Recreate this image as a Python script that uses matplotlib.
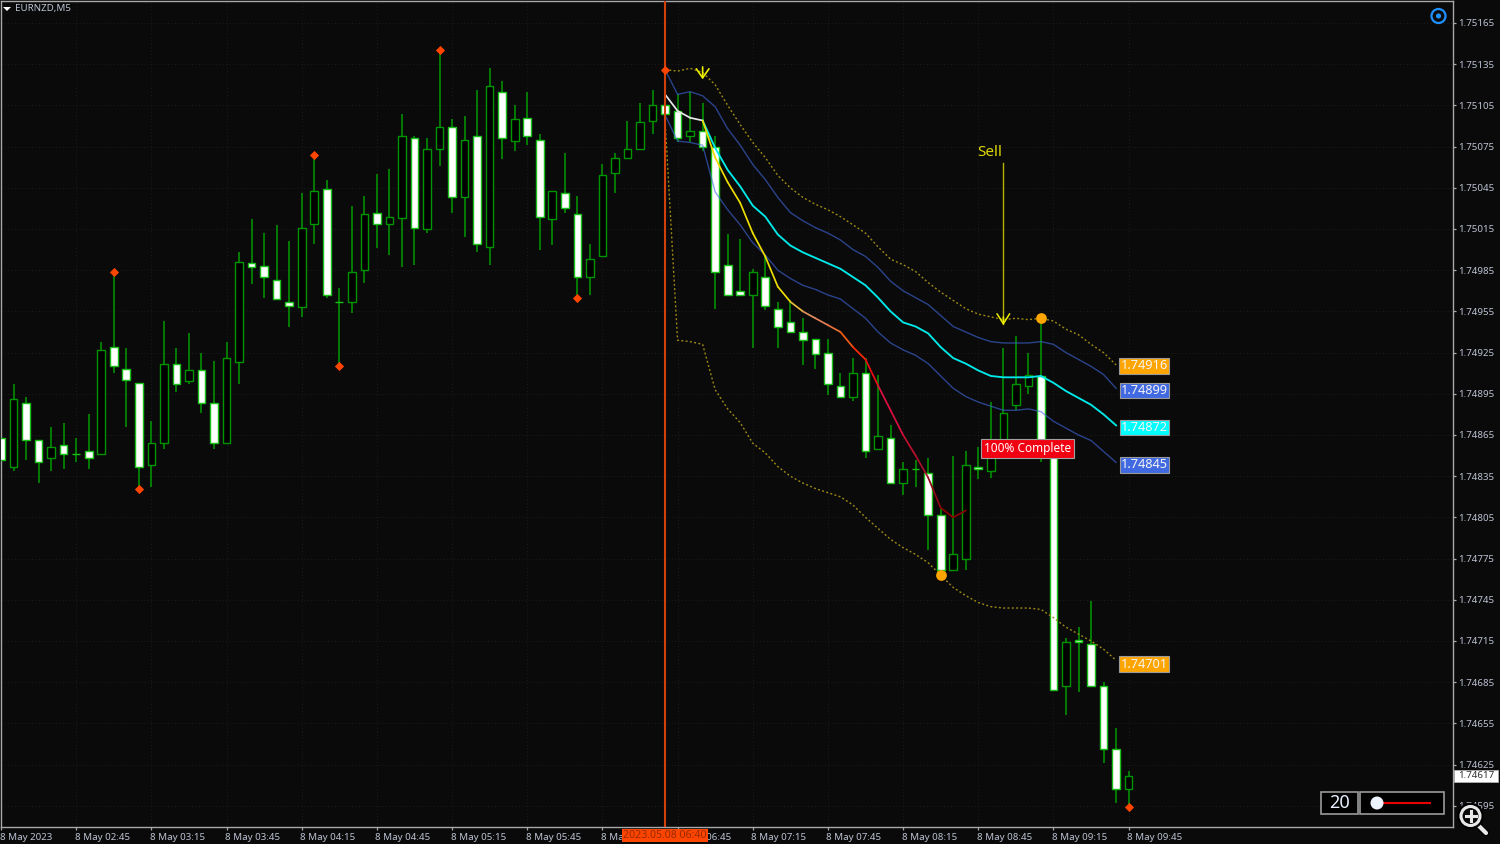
import numpy as np
import matplotlib
matplotlib.use("Agg")
import matplotlib.pyplot as plt
from matplotlib.patches import Circle, Rectangle, Polygon
from matplotlib.transforms import blended_transform_factory, ScaledTranslation

plt.rcParams['font.family'] = ['Noto Sans', 'DejaVu Sans']

opens = [1.74863,1.74842,1.74888,1.74861,1.74848,1.74858,1.74851,1.74853,1.74851,1.74929,
 1.74913,1.74903,1.74843,1.74859,1.74917,1.74904,1.74912,1.74888,1.74859,1.74918,
 1.74990,1.74988,1.74978,1.74962,1.74958,1.75019,1.75044,1.74962,1.74962,1.74985,
 1.75027,1.75019,1.75023,1.75081,1.75015,1.75073,1.75089,1.75038,1.75083,1.75002,
 1.75115,1.75079,1.75096,1.75080,1.75022,1.75041,1.75026,1.74980,1.74995,1.75056,
 1.75067,1.75073,1.75094,1.75105,1.75101,1.75083,1.75086,1.75075,1.74989,1.74970,
 1.74967,1.74980,1.74957,1.74947,1.74940,1.74935,1.74925,1.74901,1.74893,1.74910,
 1.74855,1.74863,1.74830,1.74840,1.74837,1.74807,1.74767,1.74775,1.74842,1.74839,
 1.74858,1.74887,1.74901,1.74908,1.74850,1.74682,1.74716,1.74713,1.74682,1.74636,
 1.74607]
closes = [1.74847,1.74891,1.74861,1.74845,1.74856,1.74851,1.74851,1.74848,1.74927,1.74915,
 1.74905,1.74842,1.74859,1.74917,1.74902,1.74912,1.74888,1.74859,1.74921,1.74991,
 1.74987,1.74980,1.74964,1.74959,1.75016,1.75043,1.74967,1.74962,1.74984,1.75026,
 1.75019,1.75024,1.75083,1.75016,1.75073,1.75089,1.75038,1.75080,1.75004,1.75119,
 1.75081,1.75095,1.75083,1.75024,1.75043,1.75030,1.74980,1.74993,1.75054,1.75067,
 1.75073,1.75093,1.75105,1.75099,1.75081,1.75086,1.75075,1.74984,1.74967,1.74967,
 1.74984,1.74959,1.74944,1.74940,1.74934,1.74924,1.74902,1.74893,1.74910,1.74853,
 1.74864,1.74830,1.74840,1.74840,1.74807,1.74767,1.74778,1.74843,1.74840,1.74858,
 1.74881,1.74902,1.74909,1.74850,1.74679,1.74714,1.74714,1.74682,1.74636,1.74607,
 1.74617]
highs = [1.74870,1.74902,1.74893,1.74861,1.74871,1.74874,1.74863,1.74880,1.74933,1.74984,
 1.74928,1.74903,1.74875,1.74948,1.74928,1.74939,1.74925,1.74919,1.74933,1.74998,
 1.75022,1.75012,1.75018,1.75006,1.75041,1.75069,1.75051,1.74972,1.75032,1.75039,
 1.75055,1.75059,1.75099,1.75083,1.75081,1.75145,1.75095,1.75097,1.75116,1.75132,
 1.75123,1.75105,1.75115,1.75084,1.75043,1.75070,1.75039,1.75004,1.75062,1.75070,
 1.75094,1.75107,1.75116,1.75131,1.75113,1.75115,1.75107,1.75083,1.75011,1.75008,
 1.74986,1.74995,1.74962,1.74963,1.74950,1.74935,1.74935,1.74910,1.74921,1.74921,
 1.74909,1.74872,1.74845,1.74847,1.74848,1.74812,1.74850,1.74853,1.74856,1.74889,
 1.74928,1.74937,1.74925,1.74950,1.74861,1.74717,1.74725,1.74744,1.74685,1.74652,
 1.74620]
lows = [1.74837,1.74839,1.74847,1.74830,1.74839,1.74840,1.74845,1.74840,1.74851,1.74910,
 1.74871,1.74826,1.74827,1.74855,1.74896,1.74902,1.74881,1.74855,1.74859,1.74902,
 1.74975,1.74965,1.74963,1.74944,1.74951,1.75004,1.74965,1.74915,1.74954,1.74976,
 1.75001,1.74996,1.74987,1.74989,1.75012,1.75061,1.75027,1.75009,1.74998,1.74989,
 1.75066,1.75072,1.75076,1.75000,1.75003,1.75027,1.74965,1.74967,1.74995,1.75041,
 1.75067,1.75073,1.75084,1.75099,1.75078,1.75078,1.75072,1.74957,1.74967,1.74967,
 1.74928,1.74956,1.74928,1.74940,1.74916,1.74913,1.74894,1.74893,1.74890,1.74848,
 1.74855,1.74829,1.74821,1.74827,1.74781,1.74767,1.74767,1.74767,1.74833,1.74834,
 1.74858,1.74883,1.74895,1.74845,1.74679,1.74661,1.74678,1.74682,1.74626,1.74597,
 1.74594]

# indicator series start at the anchor bar
band_upper = [1.75131,1.75113,1.75115,1.75112,1.75104,1.75088,1.75076,1.75062,1.75051,1.75038,
 1.75027,1.75021,1.75016,1.75012,1.75007,1.75000,1.74995,1.74987,1.74977,1.74970,
 1.74965,1.74960,1.74952,1.74944,1.74940,1.74936,1.74933,1.74932,1.74932,1.74932,
 1.74933,1.74931,1.74925,1.74920,1.74915,1.74909,1.74899]
band_lower = [1.75098,1.75079,1.75078,1.75076,1.75042,1.75029,1.75018,1.75005,1.74996,1.74985,
 1.74979,1.74974,1.74971,1.74967,1.74964,1.74957,1.74950,1.74940,1.74932,1.74927,
 1.74923,1.74917,1.74908,1.74899,1.74893,1.74889,1.74886,1.74883,1.74883,1.74884,
 1.74882,1.74875,1.74870,1.74865,1.74861,1.74853,1.74845]
outer_upper = [1.75131,1.75130,1.75132,1.75129,1.75120,1.75105,1.75091,1.75078,1.75067,1.75054,
 1.75045,1.75038,1.75033,1.75029,1.75024,1.75018,1.75012,1.75002,1.74993,1.74989,
 1.74984,1.74976,1.74969,1.74963,1.74957,1.74953,1.74951,1.74949,1.74950,1.74949,
 1.74950,1.74948,1.74942,1.74938,1.74931,1.74925,1.74916]
outer_lower = [1.75094,1.74934,1.74933,1.74931,1.74898,1.74884,1.74874,1.74859,1.74852,1.74842,
 1.74835,1.74830,1.74826,1.74823,1.74820,1.74814,1.74805,1.74797,1.74789,1.74783,
 1.74778,1.74772,1.74763,1.74754,1.74748,1.74743,1.74740,1.74739,1.74739,1.74739,
 1.74738,1.74732,1.74725,1.74720,1.74715,1.74709,1.74701]
center_line = [1.75094,1.75074,1.75058,1.75046,1.75032,1.75024,1.75011,1.75003,1.74998,1.74994,
 1.74990,1.74986,1.74980,1.74974,1.74965,1.74955,1.74947,1.74944,1.74939,1.74929,
 1.74921,1.74917,1.74912,1.74908,1.74907,1.74907,1.74907,1.74908,1.74903,1.74897,
 1.74892,1.74887,1.74880,1.74872]
signal_line = [1.75113,1.75101,1.75096,1.75094,1.75067,1.75049,1.75034,1.75012,1.74995,1.74973,
 1.74962,1.74955,1.74950,1.74945,1.74940,1.74929,1.74920,1.74901,1.74883,1.74865,
 1.74850,1.74834,1.74812,1.74805,1.74810]
signal_colors = ['#e8e8e8']*3 + ['#ecdc00']*7 + ['#e8b838','#e0905c','#e08058','#e87038',
 '#f45a14','#ff2a06','#f00a14','#e01040','#d81040','#c01030','#a81028','#900818','#8b0000','#8b0000']

anchor_bar = 53
center_start = 56
extreme_bars = [9, 11, 25, 27, 35, 46, 53, 90]
extreme_prices = [1.74984, 1.74826, 1.75069, 1.74915, 1.75145, 1.74965, 1.75131, 1.74594]
pivot_bars = [75, 83]
pivot_prices = [1.74763, 1.74950]

price_ticks = [1.75165,1.75135,1.75105,1.75075,1.75045,1.75015,1.74985,1.74955,1.74925,1.74895,
 1.74865,1.74835,1.74805,1.74775,1.74745,1.74715,1.74685,1.74655,1.74625,1.74595]
time_tick_bars = [0,6,12,18,24,30,36,42,48,54,60,66,72,78,84,90]
time_tick_labels = ['8 May 2023','8 May 02:45','8 May 03:15','8 May 03:45','8 May 04:15','8 May 04:45',
 '8 May 05:15','8 May 05:45','8 May 06:15','8 May 06:45','8 May 07:15','8 May 07:45',
 '8 May 08:15','8 May 08:45','8 May 09:15','8 May 09:45']
end_labels = ['1.74916','1.74899','1.74872','1.74845','1.74701']
end_values = [1.74916,1.74899,1.74872,1.74845,1.74701]
end_colors = ['#ffa500','#4169e1','#00ffff','#4169e1','#ffa500']
end_offsets = [-1,-2,-2,-2.5,-4]
last_price = 1.74617

BG = '#0a0a0a'
W, H = 1500, 844
fig = plt.figure(figsize=(15, 8.44), dpi=100, facecolor=BG)
L, R, T, B = 1, 1453, 1, 827
ax = fig.add_axes([L/W, (H-B)/H, (R-L)/W, (B-T)/H], facecolor=BG)
bar_px, x0 = 12.53, 0.9
point_px = 41.2/0.0003
ax.set_xlim((L-x0)/bar_px, (R-x0)/bar_px)
ax.set_ylim(1.75165-(B-23)/point_px, 1.75165+(23-T)/point_px)

x = np.arange(len(opens))
o, c, h, l = map(np.array, (opens, closes, highs, lows))
falling = c <= o
GREEN = '#009400'
ax.vlines(x, l, h, color=GREEN, lw=1.15, zorder=2)
ax.bar(x[~falling], (c-o)[~falling], bottom=o[~falling], width=0.61, color='#000000',
       edgecolor=GREEN, linewidth=1.0, zorder=3)
ax.bar(x[falling], (c-o)[falling], bottom=o[falling], width=0.61, color='#ffffff',
       edgecolor='#18c018', linewidth=1.0, zorder=3)

bx = np.arange(anchor_bar, anchor_bar+len(band_upper))
DOT = (0, (1.4, 1.7))
ax.plot(bx, outer_upper, color='#a08a14', lw=1.0, ls=DOT, zorder=4)
ax.plot(bx, outer_lower, color='#a08a14', lw=1.0, ls=DOT, zorder=4)
ax.plot(bx, band_upper, color='#4169e1', alpha=0.6, lw=1.0, zorder=4)
ax.plot(bx, band_lower, color='#4169e1', alpha=0.6, lw=1.0, zorder=4)
cx = np.arange(center_start, center_start+len(center_line))
ax.plot(cx, center_line, color='#00e8e8', lw=1.35, zorder=5)
sx = np.arange(anchor_bar, anchor_bar+len(signal_line))
for i, col in enumerate(signal_colors):
    ax.plot(sx[i:i+2], signal_line[i:i+2], color=col, lw=1.25, zorder=6, solid_capstyle='round')

ax.axvline(anchor_bar, color='#d2400a', lw=1.5, zorder=7)
ax.scatter(extreme_bars, extreme_prices, marker='D', s=22, color='#ff4500', linewidths=0, zorder=8)
ax.scatter(pivot_bars, pivot_prices, marker='o', s=60, color='#ffa500', linewidths=0, zorder=8)

# Sell annotation and small arrow
ax.text(78.9, 1.75071, 'Sell', color='#dcd600', fontsize=11, ha='center', va='center', zorder=9)
ax.plot([80, 80], [1.75063, 1.74946], color='#b4b400', lw=1.0, zorder=8)
ax.annotate('', xy=(80, 1.74945), xytext=(80, 1.74951), zorder=9,
            arrowprops=dict(arrowstyle='->,head_width=0.35,head_length=0.55', color='#f0f000', lw=1.1,
                            shrinkA=0, shrinkB=0, mutation_scale=13))
ax.annotate('', xy=(56, 1.75124), xytext=(56, 1.75133), zorder=9,
            arrowprops=dict(arrowstyle='->,head_width=0.35,head_length=0.5', color='#f0f000', lw=1.2,
                            shrinkA=0, shrinkB=0, mutation_scale=13))

# end-of-line value boxes
for txt, val, col, off in zip(end_labels, end_values, end_colors, end_offsets):
    ax.annotate(txt, xy=(91.25, val), xytext=(0, off), textcoords='offset pixels', color='#f4f4f4',
                fontsize=9.2, ha='center', va='center', zorder=10,
                bbox=dict(boxstyle='square,pad=0.1', fc=col, ec='#9a9a9a', lw=0.8))
ax.text(81.95, 1.74855, '100% Complete', color='#ffffff', fontsize=8.5, ha='center', va='center', zorder=10,
        bbox=dict(boxstyle='square,pad=0.24', fc='#f00010', ec='#a0a0a0', lw=0.8))

# axes styling
for name in ('top', 'left', 'right', 'bottom'):
    ax.spines[name].set_color('#a8a8a8')
    ax.spines[name].set_linewidth(1.0)
ax.yaxis.tick_right()
ax.set_yticks(price_ticks)
ax.set_yticklabels([f'{p:.5f}' for p in price_ticks])
ax.set_xticks(time_tick_bars)
ax.set_xticklabels(time_tick_labels, ha='left')
ax.tick_params(axis='both', colors='#a8a8a8', labelcolor='#bcc2d2', length=2.2, width=0.9, labelsize=7)
ax.tick_params(axis='y', pad=1.8)
ax.tick_params(axis='x', pad=2.0)
shift = ScaledTranslation(-1.5/100, 0, fig.dpi_scale_trans)
for lab in ax.get_xticklabels():
    lab.set_transform(lab.get_transform() + shift)
ax.grid(True, color='#1d1d1d', lw=0.7, ls=(0, (1, 2.5)), zorder=0)
ax.set_axisbelow(True)

# terminal chrome drawn in a pixel overlay, above the axis labels
ov = fig.add_axes([0, 0, 1, 1], facecolor='none')
ov.set_xlim(0, W); ov.set_ylim(H, 0); ov.axis('off')
tag_trans = blended_transform_factory(ax.transData, ov.transData)
ov.text(anchor_bar, 835.5, '2023.05.08 06:40', transform=tag_trans, color='#962a00', fontsize=7.6, ha='center',
        va='center', clip_on=False, zorder=20,
        bbox=dict(boxstyle='square,pad=0.12', fc='#ff4500', ec='none'))
ov.add_patch(Rectangle((1454, 770), 44, 12, fc='#ffffff', ec='#b0b0b0', lw=0.6, zorder=18))
price_trans = blended_transform_factory(ov.transData, ax.transData)
ov.text(1476, last_price, f'{last_price:.5f}', transform=price_trans, color='#333333', fontsize=7, ha='center',
        va='center', clip_on=False, zorder=20)
ov.add_patch(Polygon([(3, 7), (11, 7), (7, 11)], fc='#ffffff', ec='none'))
ov.text(15, 9, 'EURNZD,M5', color='#bcc2d2', fontsize=7, ha='left', va='center')
ov.add_patch(Circle((1438.5, 16), 7, fc='none', ec='#1e90ff', lw=1.6))
ov.add_patch(Circle((1438.5, 16), 2.6, fc='#1e90ff', ec='none'))
ov.add_patch(Rectangle((1321, 792), 37, 22, fc='#000000', ec='#9a9a9a', lw=1.2))
ov.text(1339.5, 802.5, '20', color='#e8f0ff', fontsize=13, ha='center', va='center')
ov.add_patch(Rectangle((1360, 792), 84, 22, fc='#000000', ec='#9a9a9a', lw=1.2))
ov.plot([1377, 1430], [803, 803], color='#e80000', lw=1.5)
ov.add_patch(Circle((1377, 803), 6.5, fc='#eef4ff', ec='none', zorder=5))
ov.plot([1477, 1486], [824, 833], color='#000000', lw=5, solid_capstyle='round', zorder=5)
ov.plot([1477, 1486], [824, 833], color='#e8e8e8', lw=3, solid_capstyle='round', zorder=6)
ov.add_patch(Circle((1470.5, 816), 11.5, fc='none', ec='#000000', lw=2.5, zorder=6))
ov.add_patch(Circle((1470.5, 816), 9.5, fc='#0a0a0a', ec='#e8e8e8', lw=2.2, zorder=7))
ov.plot([1465.5, 1475.5], [816, 816], color='#e8e8e8', lw=2.2, zorder=8)
ov.plot([1470.5, 1470.5], [811, 821], color='#e8e8e8', lw=2.2, zorder=8)

fig.savefig('out.png', dpi=100, facecolor=BG)
